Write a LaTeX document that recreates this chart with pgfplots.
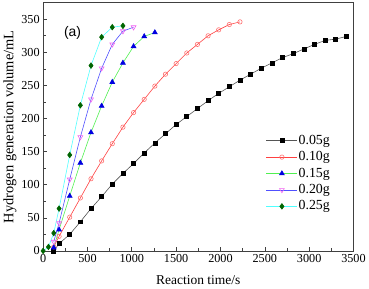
\documentclass[border=0pt]{standalone}
\usepackage{pgfplots}
\pgfplotsset{compat=1.18}
\usepackage{fontspec}
\setmainfont{Liberation Serif}
\newfontfamily\arialfont{Liberation Sans}
\definecolor{c1line}{HTML}{555555}
\definecolor{c2line}{HTML}{FF4040}
\definecolor{c2mark}{HTML}{FF7070}
\definecolor{c3line}{HTML}{50F050}
\definecolor{c3mark}{HTML}{0000E0}
\definecolor{c4line}{HTML}{5050FF}
\definecolor{c4mark}{HTML}{F060F0}
\definecolor{c5line}{HTML}{50FFFF}
\definecolor{c5mark}{HTML}{006400}
\begin{document}
\begin{tikzpicture}
\begin{axis}[
  scale only axis,
  width=311.7bp, height=249.3bp,
  xmin=0, xmax=3500, ymin=0, ymax=375,
  xtick={0,500,...,3500}, ytick={0,50,...,350},
  minor x tick num=1, minor y tick num=1,
  tick align=inside, tick pos=left,
  major tick length=4bp, minor tick length=2.5bp,
  axis line style={draw=black!75, line width=0.8bp},
  every tick/.style={black!75, line width=0.6bp},
  scaled ticks=false,
  /pgf/number format/assume math mode=true,
  /pgf/number format/1000 sep={},
  tick label style={font=\fontsize{12.3}{14}\selectfont},
  xlabel={Reaction time/s},
  ylabel={Hydrogen generation volume/mL},
  xlabel style={font=\fontsize{13.6}{15}\selectfont, at={(axis description cs:0.5,-0.118)}, anchor=center},
  ylabel style={font=\fontsize{14.5}{16}\selectfont, at={(axis description cs:-0.107,0.5)}, anchor=center},
  legend style={at={(rel axis cs:0.718,0.475)}, anchor=north west, draw=none, fill=none,
    font=\fontsize{14}{16}\selectfont, inner sep=0pt, row sep=1.5bp,
    nodes={inner sep=1bp, text height=10bp, text depth=3bp}},
  legend cell align=left,
  legend image code/.code={\draw[mark repeat=2,mark phase=2] plot coordinates {(0bp,0bp) (15.5bp,0bp) (31bp,0bp)};},
  clip=true,
]
\addplot[c1line, line width=0.6bp, mark=square*, mark size=2bp, mark options={fill=black, draw=black, solid}] coordinates {
(120,0)(180,11)(300,25)(420,44)(540,64)(660,82)(780,101)(900,117)(1020,132)(1140,148)(1260,163)(1380,177)(1500,191)(1620,203)(1740,215)(1860,227)(1980,238)(2100,248)(2220,258)(2340,267)(2460,276)(2580,284)(2700,292)(2820,298)(2940,305)(3060,312)(3180,318)(3300,320)(3420,324)};
\addlegendentry{0.05g}
\addplot[c2line, line width=0.6bp, mark=o, mark size=2.2bp, mark options={draw=c2mark, fill=white, solid}] coordinates {
(120,6)(180,22)(300,51)(420,80)(540,109)(660,136)(780,162)(900,187)(1020,209)(1140,229)(1260,249)(1380,267)(1500,283)(1620,299)(1740,312)(1860,325)(1980,334)(2100,342)(2220,346)};
\addlegendentry{0.10g}
\addplot[c3line, line width=0.6bp, mark=triangle*, mark size=2.8bp, mark options={fill=c3mark, draw=c3mark, solid}] coordinates {
(120,5)(180,32)(300,83)(420,133)(540,179)(660,219)(780,255)(900,284)(1020,309)(1140,324)(1260,330)};
\addlegendentry{0.15g}
\addplot[c4line, line width=0.6bp, mark=triangle, mark size=2.8bp, mark options={draw=c4mark, fill=white, rotate=180, solid}] coordinates {
(120,14)(180,42)(300,108)(420,172)(540,229)(660,276)(780,312)(900,332)(1020,338)};
\addlegendentry{0.20g}
\addplot[c5line, line width=0.6bp, mark=diamond*, mark size=2.8bp, mark options={fill=c5mark, draw=c5mark, solid}] coordinates {
(0,0)(60,6)(120,27)(180,64)(300,145)(420,220)(540,280)(660,323)(780,338)(900,340)};
\addlegendentry{0.25g}
\node[font=\arialfont\fontsize{14}{16}\selectfont] at (rel axis cs:0.095,0.878) {(a)};
\end{axis}
\path ([xshift=-43.3bp,yshift=-36bp]current axis.south west) rectangle ([xshift=14bp,yshift=2.7bp]current axis.north east);
\end{tikzpicture}
\end{document}
